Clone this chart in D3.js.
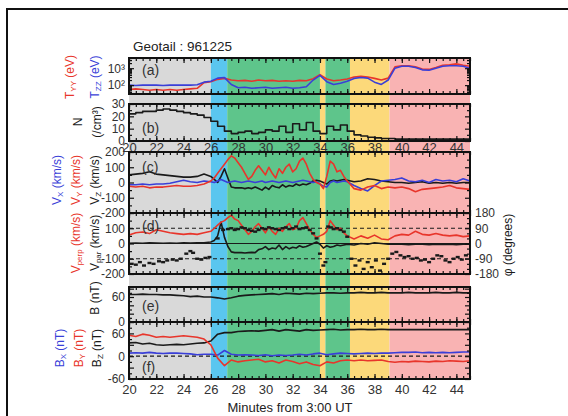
<!DOCTYPE html>
<html lang="en">
<head>
<meta charset="UTF-8" />
<title>Geotail : 961225</title>
<style>
  body { margin: 0; background: #fff; }
  svg { display: block; font-family: 'Liberation Sans', Arial, sans-serif; }
  .ylab text { font-size: 12px; fill: #333; }
  .xlab text { font-size: 13px; fill: #333; }
  .frame { fill: none; stroke: #111; stroke-width: 2; }
</style>
</head>
<body>
<svg width="568" height="416"></svg>
<script src="https://d3js.org/d3.v7.min.js"></script>
<script>
// --- background intervals (minutes from 3:00 UT)
const shadeStarts = [20, 26.0, 27.2, 34.0, 34.4, 36.2, 39.1];
const shadeEnds   = [26.0, 27.2, 34.0, 34.4, 36.2, 39.1, 45];
const shadeKinds  = ["gray", "blue", "green", "yellow", "green", "yellow", "pink"];

// --- tick labels
const xTickLabels = [20, 22, 24, 26, 28, 30, 32, 34, 36, 38, 40, 42, 44];
const tTicks = [100, 1000];
const nTicks = [0, 10, 20, 30];
const vTicks = [-200, -100, 0, 100, 200];
const vparTicks = [-200, -100, 0, 100];
const phiTicks = [-180, -90, 0, 90, 180];
const bTicks = [0, 60];
const bxyzTicks = [-60, 0, 60];

// --- slow time grid (0.5 min)
const tSlow = [20,20.5,21,21.5,22,22.5,23,23.5,24,24.5,25,25.5,26,26.5,27,27.5,28,28.5,29,29.5,
  30,30.5,31,31.5,32,32.5,33,33.5,34,34.5,35,35.5,36,36.5,37,37.5,38,38.5,39,39.5,
  40,40.5,41,41.5,42,42.5,43,43.5,44,44.5,45];

// (a) temperatures, eV
const tyy = [55,60,55,50,55,50,55,50,55,60,65,140,160,220,250,200,180,190,170,200,
  180,190,170,180,170,190,180,240,420,230,180,200,230,300,330,300,250,200,260,1200,
  1400,1400,1200,900,850,1100,1500,1600,1800,1500,1300];
const tzz = [100,95,100,100,100,95,100,100,100,100,105,150,170,260,280,110,70,75,65,70,
  75,65,70,75,65,70,80,200,380,160,110,130,170,250,280,260,150,110,200,1000,
  1300,1300,1100,800,750,1000,1300,1400,1400,1300,1000];

// (b) density, /cm3
const density = [22,23,24,24,25,26,25,24,23,22,21,19,16,12,8,6,7,8,6,7,
  9,8,12,7,14,9,15,8,6,12,9,13,8,5,4,3,2.5,2,2,1.5,
  1.5,1.5,1.5,1.5,1.5,1.5,1.5,1.5,1.5,1.5,1.5];

// --- velocity time grid
const tVel = [20,20.5,21,21.5,22,22.5,23,23.5,24,24.5,25,25.5,26,
  26.25,26.5,26.75,27,27.25,27.5,27.75,28,28.25,28.5,28.75,29,29.25,29.5,29.75,30,
  30.25,30.5,30.75,31,31.25,31.5,31.75,32,32.25,32.5,32.75,33,33.25,33.5,33.75,34,
  34.25,34.5,34.75,35,35.25,35.5,35.75,36,
  36.5,37,37.5,38,38.5,39,39.5,40,40.5,41,41.5,42,42.5,43,43.5,44,44.5,45];

// (c) velocity components, km/s
const vx = [-15,-15,-10,-15,-10,-10,-5,5,15,5,0,10,5,
  0,10,20,10,0,5,10,5,0,5, 10,5,0,5,10,0,5,10,5,0, 5,10,5,0,5,10,15,10,5,0, 5,-10,-25,-30,0,10,0,5,10,5,
  -20,-40,-55,-20,10,15,20,30,10,5,15,0,20,10,15,5,25,10];
const vy = [-25,-30,-25,-35,-30,-30,-25,-20,-25,-25,-20,-10,10,
  30,60,90,120,150,175,160,130,100,60, 20,40,80,110,80,50,100,60,30,90,
  60,100,120,70,90,140,160,120,60,20, 0,-10,-40,40,140,120,70,80,40,10,
  -40,-50,-30,-20,-40,-30,-35,-30,-40,-60,-45,-40,-35,-30,-20,-35,-40,-45];
const vz = [50,55,60,70,55,50,45,40,35,35,40,55,40,
  20,0,40,90,30,-30,-35,-35,-35,-40, -35,-40,-30,-40,-50,-30,-45,-20,-30,-35,
  -15,-30,-20,-25,-10,-20,-10,-15,-5,10, 15,10,0,-10,10,15,10,15,20,15,
  5,10,25,20,10,5,0,0,-5,0,5,-5,0,-5,0,-5,0,0];

// (d) perpendicular / parallel velocity, km/s
const vperp = [55,70,75,65,90,80,70,65,60,65,60,70,80,
  100,120,140,150,170,185,160,150,120,90, 60,80,110,130,100,70,110,80,60,100,
  80,110,130,90,100,150,170,130,90,60, 40,50,60,80,150,120,90,100,70,50,
  30,50,35,55,30,25,50,60,55,80,60,55,65,55,50,55,45,50];
const vpar = [2,3,2,4,3,2,3,2,4,3,5,5,10,
  20,50,140,40,-20,-55,-60,-60,-60,-62, -60,-58,-60,-40,-35,-20,-40,-30,-35,-10,
  -40,-20,-35,-25,-30,-15,-25,-20,-10,0, 10,-5,-30,-15,-25,-20,-10,-15,-10,-5,
  -10,0,-5,5,0,-5,-5,-5,-8,-5,-5,-8,-5,-6,-5,-8,-5,-5];

// (d) flow angle phi, degrees
const phiT = [20.2,20.5,20.8,21.1,21.5,21.8,22.2,22.5,22.8,23.2,23.5,23.8,24.2,24.5,24.7,25.0,25.3,25.6,25.9,
  26.5,26.9,
  27.25,27.5,27.75,28,28.25,28.5,28.75,29,29.25,29.5,29.75,30,30.25,30.5,30.75,31,31.25,31.5,31.75,32,32.25,32.5,32.75,33,33.25,33.5,33.75,
  34,34.25,34.4,34.6,34.8,35,35.25,35.5,35.75,36,
  36.3,36.6,36.9,37.2,37.5,37.8,38.1,38.4,38.7,39.0,
  39.3,39.6,39.9,40.2,40.5,40.8,41.1,41.4,41.7,42.0,42.3,42.6,42.9,43.2,43.5,43.8,44.1,44.4,44.7];
const phiV = [-120,-125,-110,-130,-115,-120,-105,-110,-100,-95,-100,-90,-60,-45,-55,-90,-95,-85,-80,
  30,80,
  85,90,80,85,95,90,80,75,70,80,90,85,95,90,85,80,90,95,85,90,100,85,90,95,80,60,30,
  -60,-130,-110,100,95,85,90,80,70,40,
  -90,-130,-100,-150,-110,-140,-100,-160,-120,-90,
  -60,-50,-70,-80,-75,-90,-85,-100,-95,-110,-90,-70,-75,-100,-110,-90,-80,-95,-70];

// (e) field magnitude, nT
const bMag = [66,66,67,66,66,65,65,64,63,61,62,60,60,58,55,58,62,64,65,66,
  67,68,66,69,68,67,69,68,69,70,70,69,70,70,71,70,70,71,70,70,
  70,71,70,70,70,71,70,70,71,70,70];

// (f) field components, nT
const bx = [8,9,8,10,8,7,8,8,7,6,4,5,5,3,15,5,3,4,3,2,
  4,1,3,2,3,5,3,6,8,4,6,8,7,6,7,8,7,8,8,9,
  10,10,11,9,10,9,10,9,10,11,11];
const by = [55,52,58,55,50,52,50,52,54,52,50,45,30,-5,-25,-10,-15,-12,-10,-8,
  -15,-12,-18,-10,-14,-20,-15,-22,-25,-15,-18,-12,-10,-12,-10,-12,-11,-10,-14,-16,
  -14,-15,-13,-14,-15,-13,-14,-12,-13,-14,-12];
const bz = [35,36,32,34,30,29,30,31,30,32,34,35,40,58,62,62,65,66,67,66,
  68,70,66,70,68,66,70,68,69,70,71,69,70,70,71,70,70,71,70,70,
  70,70,70,70,70,70,70,70,70,70,70];

// --- styles
const RED = "#e8352b", BLUE = "#3a3fd8", BLACK = "#1a1a1a";
const shadeFill = { gray: "#d9d9d9", blue: "#5ac6ef", green: "#5ec58b", yellow: "#fcd97a", pink: "#f9b3b3" };
const plain = d => String(d);   // hyphen minus, like the original

const svg = d3.select("svg");

// outer border
svg.append("rect").attr("x", 7).attr("y", 9).attr("width", 600).attr("height", 420)
  .attr("fill", "none").attr("stroke", "#111").attr("stroke-width", 2);

const x = d3.scaleLinear().domain([20, 45]).range([129, 470]);

// panel scales
const yA = d3.scaleLog().domain([30, 4000]).range([94, 58]);
const yB = d3.scaleLinear().domain([0, 30]).range([141, 104]);
const yC = d3.scaleLinear().domain([-200, 200]).range([213, 152]);
const yD = d3.scaleLinear().domain([-200, 200]).range([274, 213]);
const yPhi = d3.scaleLinear().domain([-180, 180]).range([274, 213]);
const yE = d3.scaleLinear().domain([0, 84]).range([322, 287]);
const yF = d3.scaleLinear().domain([-60, 90]).range([379, 322]);

// background shading
svg.append("g").selectAll("rect").data(shadeStarts).join("rect")
  .attr("x", d => x(d))
  .attr("width", (d, i) => x(shadeEnds[i]) - x(d))
  .attr("y", 58).attr("height", 379 - 58)
  .attr("fill", (d, i) => shadeFill[shadeKinds[i]]);

const xMinor = d3.range(20, 45.01, 0.5);

function frame(y, majors, minors, rightY, rMajors, rMinors) {
  const [bottom, top] = y.range();
  const g = svg.append("g");
  [[5, xTickLabels], [3, xMinor]].forEach(([len, vals]) => {
    g.append("g").attr("transform", `translate(0,${top})`)
      .call(d3.axisBottom(x).tickValues(vals).tickSize(len).tickFormat(""));
    g.append("g").attr("transform", `translate(0,${bottom})`)
      .call(d3.axisTop(x).tickValues(vals).tickSize(len).tickFormat(""));
  });
  const ry = rightY || y;
  [[5, majors, rMajors || majors], [3, minors, rMinors || minors]].forEach(([len, lv, rv]) => {
    g.append("g").attr("transform", `translate(${x(20)},0)`)
      .call(d3.axisRight(y).tickValues(lv).tickSize(len).tickFormat(""));
    g.append("g").attr("transform", `translate(${x(45)},0)`)
      .call(d3.axisLeft(ry).tickValues(rv).tickSize(len).tickFormat(""));
  });
  g.selectAll(".domain").remove();
  g.selectAll("line").attr("stroke", "#111").attr("stroke-width", 1.2);
  g.append("rect").attr("class", "frame")
    .attr("x", x(20)).attr("y", top).attr("width", x(45) - x(20)).attr("height", bottom - top);
}

function yLabels(y, vals, fmt) {
  const g = svg.append("g").attr("class", "ylab").attr("transform", `translate(${x(20)},0)`)
    .call(d3.axisLeft(y).tickValues(vals).tickSize(0).tickPadding(4).tickFormat(fmt || plain));
  g.select(".domain").remove();
}

function xLabels(yPos, pad) {
  const g = svg.append("g").attr("class", "xlab").attr("transform", `translate(0,${yPos})`)
    .call(d3.axisBottom(x).tickValues(xTickLabels).tickSize(0).tickPadding(pad).tickFormat(plain));
  g.select(".domain").remove();
}

function series(times, values, y, color, curve) {
  const line = d3.line().x((d, i) => x(times[i])).y(d => y(d)).curve(curve || d3.curveLinear);
  svg.append("path").datum(values).attr("d", line)
    .attr("fill", "none").attr("stroke", color).attr("stroke-width", 1.6)
    .attr("stroke-linejoin", "round");
}

function hline(y, v, dash) {
  svg.append("line").attr("x1", x(20)).attr("x2", x(45)).attr("y1", y(v)).attr("y2", y(v))
    .attr("stroke", BLACK).attr("stroke-width", 1.2).attr("stroke-dasharray", dash || null);
}

function panelTag(y, txt) {
  svg.append("text").attr("x", 142).attr("y", y).text(txt)
    .style("font-size", "14px").attr("fill", "#333");
}

// vertical label: parts = [[text, isSub], ...]
function vLabel(cx, cy, parts, color) {
  const t = svg.append("text").attr("transform", `translate(${cx},${cy}) rotate(-90)`)
    .attr("text-anchor", "middle").attr("dominant-baseline", "central")
    .attr("fill", color).style("font-size", "12px");
  let sub = false;
  parts.forEach(([s, isSub]) => {
    const ts = t.append("tspan").text(s);
    if (isSub && !sub) ts.attr("dy", 3).style("font-size", "8px");
    else if (isSub) ts.style("font-size", "8px");
    else if (sub) ts.attr("dy", -3);
    sub = isSub;
  });
}

// ---- (a)
series(tSlow, tyy, yA, RED);
series(tSlow, tzz, yA, BLUE);
frame(yA, tTicks, [40,50,60,70,80,90,200,300,400,500,600,700,800,900,2000,3000,4000]);
yLabels(yA, tTicks, d => d === 100 ? "10\u00B2" : "10\u00B3");
panelTag(75, "(a)");

// ---- (b)
series(tSlow, density, yB, BLACK, d3.curveStepAfter);
frame(yB, nTicks, [5, 15, 25]);
yLabels(yB, nTicks);
xLabels(141, 2);
panelTag(133, "(b)");

// ---- (c)
series(tVel, vz, yC, BLACK);
series(tVel, vx, yC, BLUE);
series(tVel, vy, yC, RED);
frame(yC, vTicks, [-150, -50, 50, 150]);
yLabels(yC, vTicks);
panelTag(172, "(c)");

// ---- (d)
hline(yPhi, 90, "4,3");
hline(yPhi, -90, "4,3");
hline(yD, 0);
series(tVel, vpar, yD, BLACK);
series(tVel, vperp, yD, RED);
svg.append("g").selectAll("rect").data(phiV).join("rect")
  .attr("x", (d, i) => x(phiT[i]) - 2).attr("y", d => yPhi(d) - 1.2)
  .attr("width", 4).attr("height", 2.4).attr("fill", BLACK);
frame(yD, vTicks, [-150, -50, 50, 150], yPhi, phiTicks, [-150, -120, -60, -30, 30, 60, 120, 150]);
yLabels(yD, vparTicks);
const rl = svg.append("g").attr("class", "ylab").attr("transform", `translate(${x(45)},0)`)
  .call(d3.axisRight(yPhi).tickValues(phiTicks).tickSize(0).tickPadding(5).tickFormat(plain));
rl.select(".domain").remove();
panelTag(231, "(d)");

// ---- (e)
series(tSlow, bMag, yE, BLACK);
frame(yE, [0, 20, 40, 60, 80], [10, 30, 50, 70]);
yLabels(yE, bTicks);
panelTag(311, "(e)");

// ---- (f)
hline(yF, 0, "4,3");
series(tSlow, bz, yF, BLACK);
series(tSlow, bx, yF, BLUE);
series(tSlow, by, yF, RED);
frame(yF, [-60, -30, 0, 30, 60, 90], [-45, -15, 15, 45, 75]);
yLabels(yF, bxyzTicks);
xLabels(379, 6);
panelTag(372, "(f)");

// ---- titles and axis labels
svg.append("text").attr("x", 133).attr("y", 51).text("Geotail : 961225")
  .style("font-size", "13.5px").attr("fill", "#222");
svg.append("text").attr("x", 290).attr("y", 412).attr("text-anchor", "middle")
  .text("Minutes from 3:00 UT").style("font-size", "13px").attr("fill", "#222");

vLabel(70, 77, [["T"], ["YY", true], [" (eV)"]], RED);
vLabel(95, 77, [["T"], ["ZZ", true], [" (eV)"]], BLUE);
vLabel(78, 122, [["N"]], BLACK);
vLabel(97, 122, [["(/cm\u00B3)"]], BLACK);
vLabel(57, 180, [["V"], ["X", true], [" (km/s)"]], BLUE);
vLabel(76, 180, [["V"], ["Y", true], [" (km/s)"]], RED);
vLabel(95, 180, [["V"], ["Z", true], [" (km/s)"]], BLACK);
vLabel(76, 243, [["V"], ["perp", true], [" (km/s)"]], RED);
vLabel(95, 243, [["V"], ["par", true], [" (km/s)"]], BLACK);
vLabel(95, 298, [["B (nT)"]], BLACK);
vLabel(60, 348, [["B"], ["X", true], [" (nT)"]], BLUE);
vLabel(79, 348, [["B"], ["Y", true], [" (nT)"]], RED);
vLabel(97, 348, [["B"], ["Z", true], [" (nT)"]], BLACK);
vLabel(508, 245, [["\u03C6 (degrees)"]], BLACK);
</script>
</body>
</html>
